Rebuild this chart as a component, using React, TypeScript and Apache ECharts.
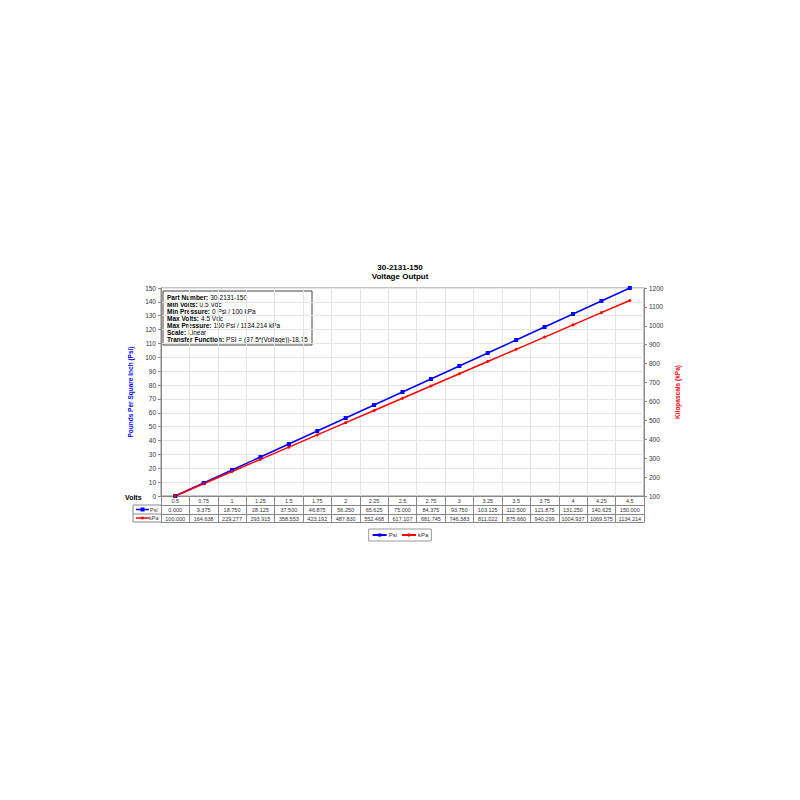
import React, { useEffect, useRef } from "react";
import * as echarts from "echarts";

const volts = ["0.5", "0.75", "1", "1.25", "1.5", "1.75", "2", "2.25", "2.5", "2.75", "3", "3.25", "3.5", "3.75", "4", "4.25", "4.5"];
const psi = [0, 9.375, 18.75, 28.125, 37.5, 46.875, 56.25, 65.625, 75, 84.375, 93.75, 103.125, 112.5, 121.875, 131.25, 140.625, 150];
const kpa = [100, 164.638, 229.277, 293.915, 358.553, 423.192, 487.83, 552.468, 617.107, 681.745, 746.383, 811.022, 875.66, 940.299, 1004.937, 1069.575, 1134.214];
const infoLines = [
  ["Part Number:", "30-2131-150"],
  ["Min Volts:", "0.5 Vdc"],
  ["Min Pressure:", "0 Psi / 100 kPa"],
  ["Max Volts:", "4.5 Vdc"],
  ["Max Pressure:", "150 Psi / 1134.214 kPa"],
  ["Scale:", "Linear"],
  ["Transfer Function:", "PSI = (37.5*(Voltage))-18.75"],
];

const FONT = "Liberation Sans, Arial, sans-serif";
const INFO_FS = 6.5;

function measure(text: string, bold: boolean): number {
  const c = document.createElement("canvas").getContext("2d")!;
  c.font = `${bold ? "bold " : ""}${INFO_FS}px "Liberation Sans", Arial, sans-serif`;
  return c.measureText(text).width;
}

export default function App() {
  const ref = useRef<HTMLDivElement>(null);
  useEffect(() => {
    const chart = echarts.init(ref.current!, null, { renderer: "svg" });
    const L = 161, R = 644, T = 288, B = 496;
    const tableAxis = (offset: number, fmt: (i: number) => string, showLabel = true) => ({
      type: "category",
      data: volts,
      position: "bottom",
      offset,
      gridIndex: 0,
      axisLine: { show: true, lineStyle: { color: "#888", width: 1 } },
      axisTick: { show: false },
      splitLine: { show: false },
      axisLabel: {
        show: showLabel,
        interval: 0,
        margin: 2,
        fontSize: 5.5,
        color: "#333",
        fontFamily: FONT,
        formatter: (_v: string, i: number) => fmt(i),
      },
    });
    const infoTexts: any[] = [];
    infoLines.forEach(([a, b], i) => {
      const y = 2.5 + i * 7;
      infoTexts.push({
        type: "text",
        x: 4,
        y,
        style: { text: a, fontSize: INFO_FS, fontWeight: "bold", fill: "#000", fontFamily: FONT, verticalAlign: "top" },
      });
      infoTexts.push({
        type: "text",
        x: 4 + measure(a, true) + 2,
        y,
        style: { text: b, fontSize: INFO_FS, fill: "#000", fontFamily: FONT, verticalAlign: "top" },
      });
    });
    chart.setOption({
      animation: false,
      backgroundColor: "#fff",
      textStyle: { fontFamily: FONT },
      title: {
        text: "30-2131-150",
        subtext: "Voltage Output",
        left: "center",
        top: 258,
        itemGap: 1,
        textStyle: { fontSize: 8, fontWeight: "bold", color: "#000", fontFamily: FONT },
        subtextStyle: { fontSize: 8, fontWeight: "bold", color: "#000", fontFamily: FONT },
      },
      legend: {
        top: 529,
        left: "center",
        itemWidth: 14,
        itemHeight: 4,
        itemGap: 4,
        padding: [3, 3],
        borderColor: "#999",
        borderWidth: 1,
        textStyle: { fontSize: 6, color: "#333", fontFamily: FONT, padding: [0, 0, 0, -3] },
        data: ["Psi", "kPa"],
      },
      grid: { left: L, right: 800 - R, top: T, bottom: 800 - B, show: true, borderColor: "#888", borderWidth: 1 },
      xAxis: [
        {
          type: "category",
          data: volts,
          position: "bottom",
          boundaryGap: true,
          axisLine: { show: true, lineStyle: { color: "#888" } },
          axisTick: { show: true, length: 26, lineStyle: { color: "#888" } },
          splitLine: { show: true, lineStyle: { color: "#e4e4e4" } },
          axisLabel: { interval: 0, margin: 2, fontSize: 5.5, color: "#333", fontFamily: FONT },
        },
        tableAxis(9, (i) => psi[i].toFixed(3)),
        tableAxis(18, (i) => kpa[i].toFixed(3)),
        tableAxis(26, () => "", false),
      ],
      yAxis: [
        {
          type: "value",
          min: 0,
          max: 150,
          interval: 10,
          position: "left",
          name: "Pounds Per Square Inch (Psi)",
          nameLocation: "middle",
          nameGap: 23,
          nameTextStyle: { color: "#0000ff", fontWeight: "bold", fontSize: 6.5, fontFamily: FONT },
          axisLine: { show: true, lineStyle: { color: "#888" } },
          axisTick: { show: true, length: 3, lineStyle: { color: "#888" } },
          splitLine: { show: true, lineStyle: { color: "#e4e4e4" } },
          axisLabel: { fontSize: 6.5, color: "#333", margin: 5, fontFamily: FONT },
        },
        {
          type: "value",
          min: 100,
          max: 1200,
          interval: 100,
          position: "right",
          name: "Kilopascals (kPa)",
          nameLocation: "middle",
          nameGap: 24,
          nameRotate: 90,
          nameTextStyle: { color: "#ff0000", fontWeight: "bold", fontSize: 6.5, fontFamily: FONT },
          axisLine: { show: true, lineStyle: { color: "#888" } },
          axisTick: { show: true, length: 3, lineStyle: { color: "#888" } },
          splitLine: { show: false },
          axisLabel: { fontSize: 6.5, color: "#333", margin: 5, fontFamily: FONT, formatter: (v: number) => String(v) },
        },
      ],
      series: [
        {
          name: "Psi",
          type: "line",
          xAxisIndex: 0,
          yAxisIndex: 0,
          data: psi,
          symbol: "rect",
          symbolSize: 4,
          lineStyle: { color: "#0000ff", width: 1.5 },
          itemStyle: { color: "#0000ff" },
          z: 3,
        },
        {
          name: "kPa",
          type: "line",
          xAxisIndex: 0,
          yAxisIndex: 1,
          data: kpa,
          symbol: "circle",
          symbolSize: 3,
          lineStyle: { color: "#ff0000", width: 1.5 },
          itemStyle: { color: "#ff0000" },
          z: 3,
        },
      ],
      graphic: [
        {
          type: "group",
          x: 163,
          y: 291,
          children: [
            { type: "rect", shape: { x: 0, y: 0, width: 149, height: 54 }, style: { fill: "#fff", stroke: "#444", lineWidth: 1 } },
            ...infoTexts,
          ],
        },
        { type: "text", x: 125, y: 494, style: { text: "Volts", fontSize: 7, fontWeight: "bold", fill: "#000", fontFamily: FONT } },
        { type: "line", shape: { x1: 133, y1: 505, x2: L, y2: 505 }, style: { stroke: "#888", lineWidth: 1 } },
        { type: "line", shape: { x1: 133, y1: 514, x2: L, y2: 514 }, style: { stroke: "#888", lineWidth: 1 } },
        { type: "line", shape: { x1: 133, y1: 522, x2: L, y2: 522 }, style: { stroke: "#888", lineWidth: 1 } },
        { type: "line", shape: { x1: 133, y1: 505, x2: 133, y2: 522 }, style: { stroke: "#888", lineWidth: 1 } },
        { type: "line", shape: { x1: 136, y1: 509.5, x2: 149, y2: 509.5 }, style: { stroke: "#0000ff", lineWidth: 1.5 } },
        { type: "rect", shape: { x: 140.5, y: 507.5, width: 4, height: 4 }, style: { fill: "#0000ff" } },
        { type: "text", x: 150, y: 506.5, style: { text: "Psi", fontSize: 5.5, fill: "#333", fontFamily: FONT } },
        { type: "line", shape: { x1: 136, y1: 518, x2: 149, y2: 518 }, style: { stroke: "#ff0000", lineWidth: 1.5 } },
        { type: "circle", shape: { cx: 142.5, cy: 518, r: 1.5 }, style: { fill: "#ff0000" } },
        { type: "text", x: 149, y: 515, style: { text: "kPa", fontSize: 5.5, fill: "#333", fontFamily: FONT } },
      ],
    });
    return () => chart.dispose();
  }, []);
  return <div ref={ref} style={{ width: 800, height: 800, position: "absolute", left: 0, top: 0 }} />;
}
